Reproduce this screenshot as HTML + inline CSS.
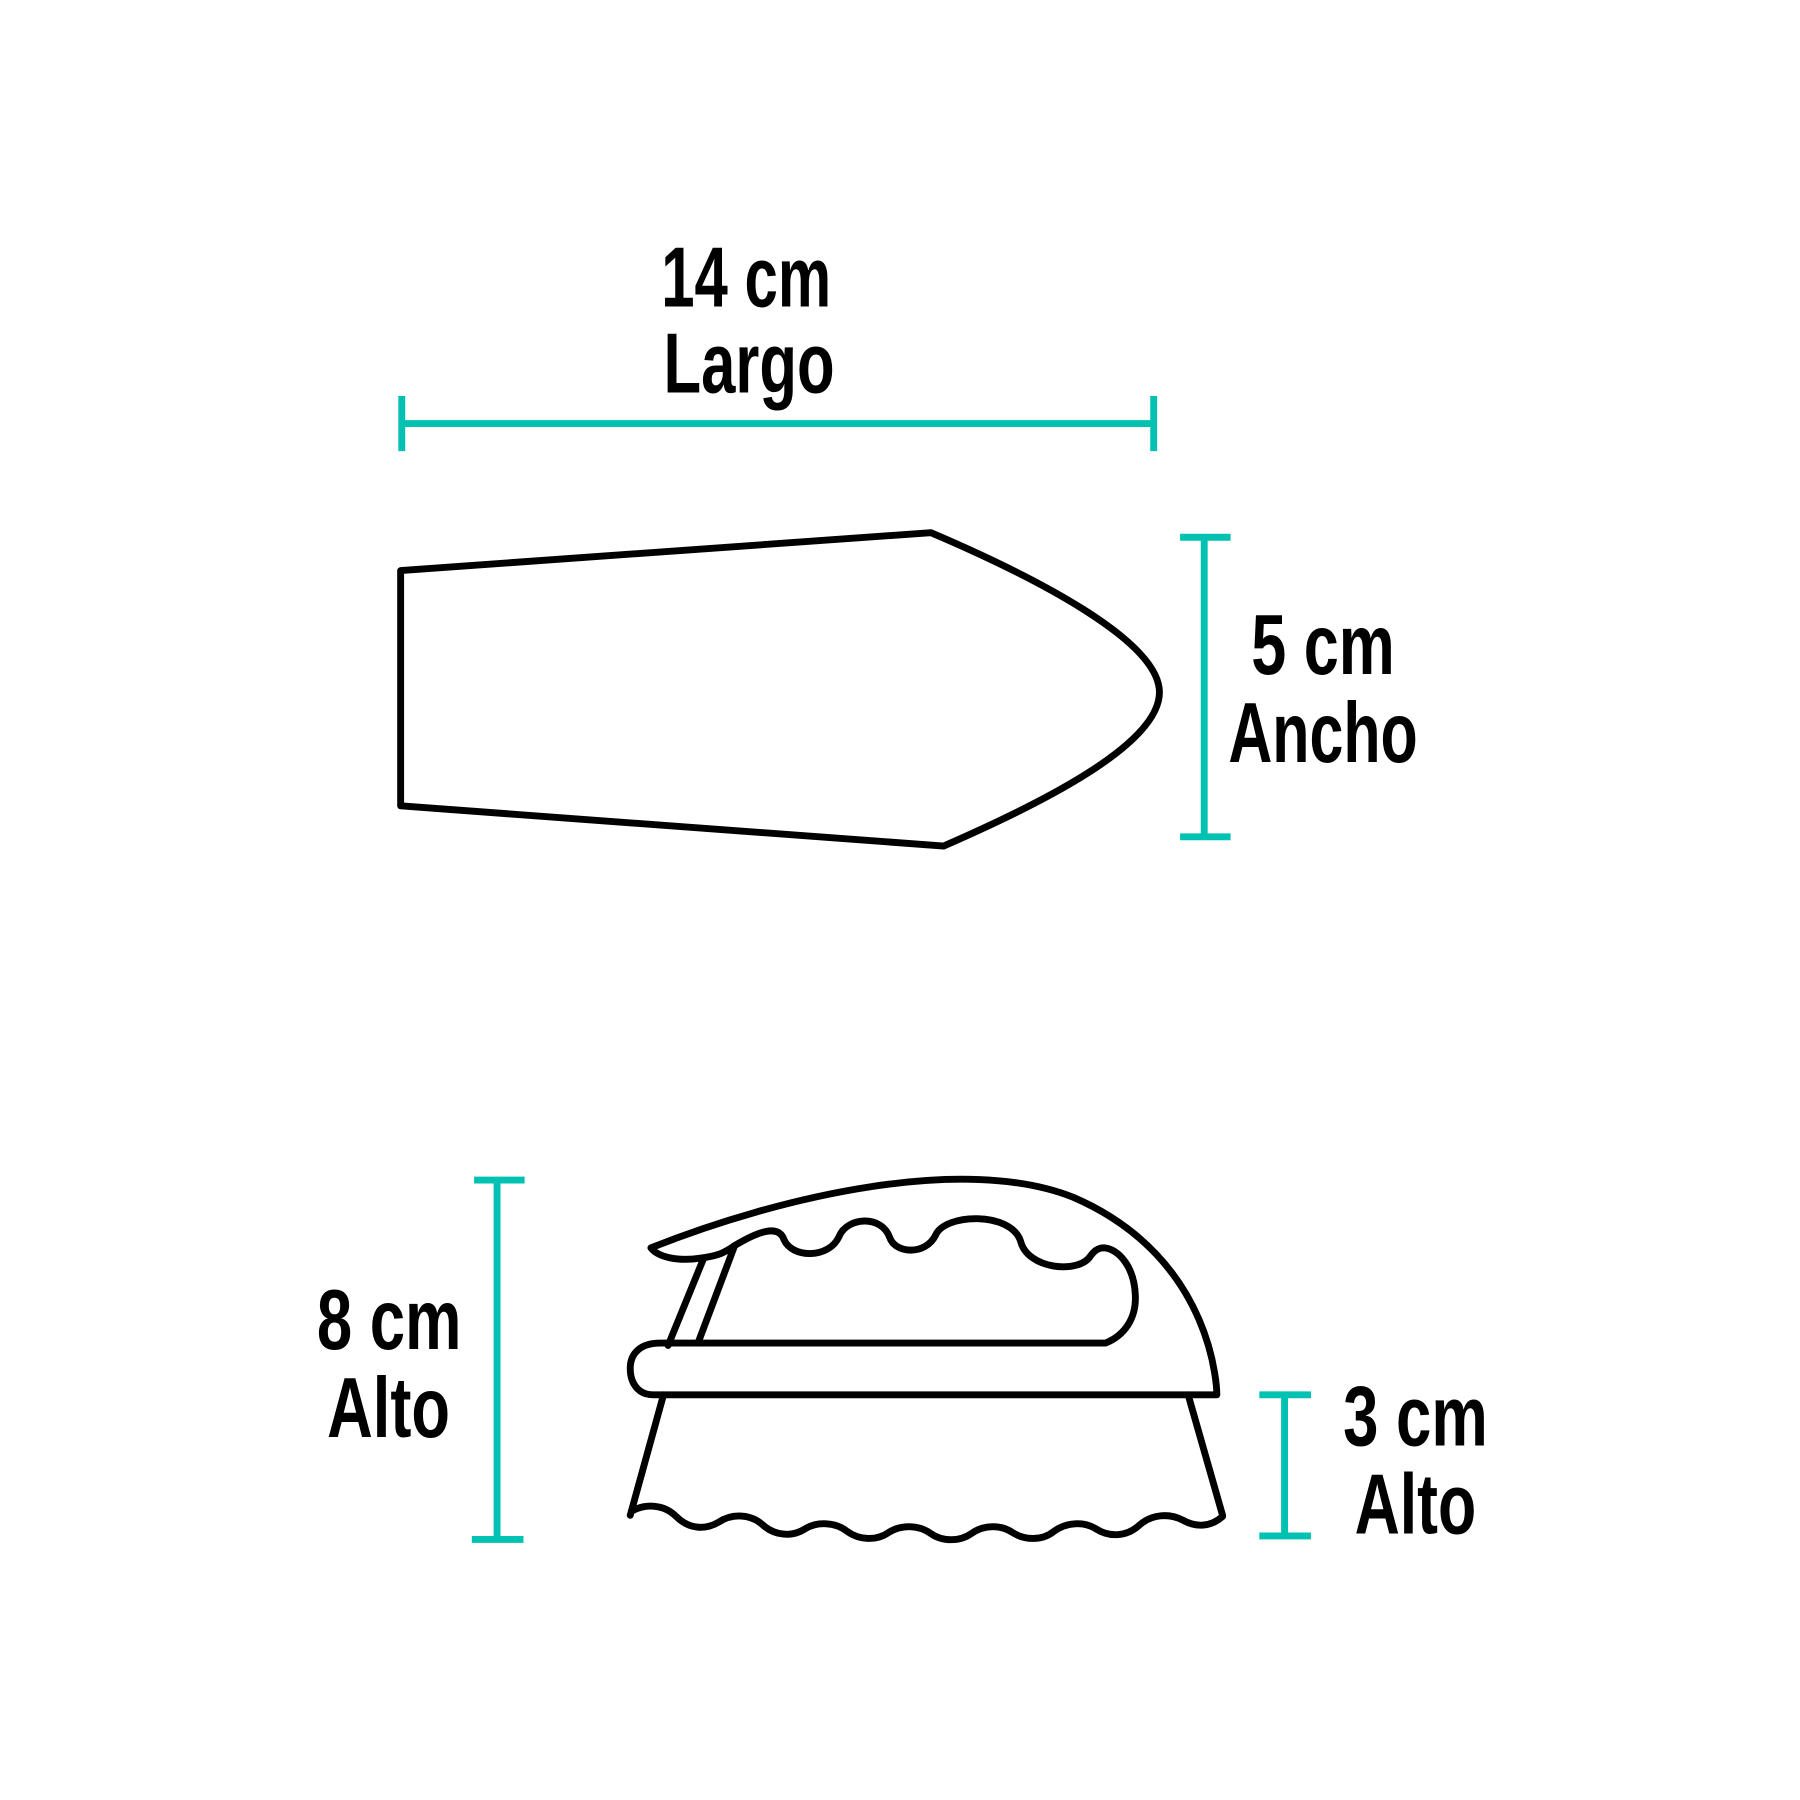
<!DOCTYPE html>
<html><head><meta charset="utf-8"><style>
html,body{margin:0;padding:0;background:#fff;}
svg{display:block}
text{font-family:"Liberation Sans Narrow","Liberation Sans",sans-serif;font-weight:bold;fill:#000;}
</style></head><body>
<svg width="1800" height="1800" viewBox="0 0 1568 1568" xmlns="http://www.w3.org/2000/svg">
<rect width="1568" height="1568" fill="#fff"/>
<g fill="none" stroke="#000" stroke-width="6" stroke-linejoin="round" stroke-linecap="round">
<path d="M349,497 L811,464 C900,502 1010,558 1010,603 C1010,650 900,703 822,737 L349,702 Z"/>
<g>
<path d="M567,1087 C680,1042 840,1005 935,1043 C1060,1097 1060,1215 1060,1215 L569,1215 C556,1215 549,1205 549,1192 C549,1178 559,1170 575,1170 L963,1170 C980,1163 990,1148 989,1128 C988,1103 974,1088 962,1087 C956,1087 953,1090 950,1094 C940,1110 895,1106 889,1081 C880,1055 823,1057 815,1076 C806,1094 780,1092 775,1078 C768,1058 738,1060 731,1077 C722,1097 690,1096 683,1080 C678,1066 660,1073 640,1085 C630,1092 625,1094 610,1096 C590,1099 573,1095 567,1087 Z"/>
<path d="M613,1096 L582,1172 M640,1085 L608,1170"/>
<path d="M578,1215 L549,1320 M1035,1215 L1065,1320"/>
<path d="M551,1316 C562,1310 578,1310 589,1321 C600,1332 614,1333 626,1326 C638,1318 654,1319 664,1328 C675,1338 690,1339 701,1332 C712,1325 728,1326 738,1334 C749,1342 764,1342 774,1335 C785,1328 800,1328 811,1336 C821,1343 836,1343 846,1336 C857,1328 872,1328 882,1335 C893,1342 908,1342 918,1334 C929,1326 944,1325 955,1332 C966,1339 981,1339 992,1329 C1003,1319 1018,1318 1030,1324 C1042,1331 1055,1330 1065,1321"/>
</g>
</g>
<g stroke="#00c1b2" stroke-width="6" fill="none">
<path d="M350,369 H1005 M350,345 V393 M1005,345 V393"/>
<path d="M1049,468 V729 M1028,468 H1072 M1028,729 H1072"/>
<path d="M433,1028 V1341 M413,1028 H457 M411,1341 H456"/>
<path d="M1119,1215 V1338 M1097,1215 H1142 M1097,1338 H1142"/>
</g>
<text x="576" y="267" font-size="74" textLength="148" lengthAdjust="spacingAndGlyphs">14 cm</text>
<text x="578" y="342" font-size="74" textLength="149" lengthAdjust="spacingAndGlyphs">Largo</text>
<text x="1090" y="587" font-size="74" textLength="125" lengthAdjust="spacingAndGlyphs">5 cm</text>
<text x="1070" y="664" font-size="74" textLength="165" lengthAdjust="spacingAndGlyphs">Ancho</text>
<text x="276" y="1175" font-size="74" textLength="126" lengthAdjust="spacingAndGlyphs">8 cm</text>
<text x="285" y="1252" font-size="74" textLength="107" lengthAdjust="spacingAndGlyphs">Alto</text>
<text x="1170" y="1259" font-size="74" textLength="126" lengthAdjust="spacingAndGlyphs">3 cm</text>
<text x="1180" y="1336" font-size="74" textLength="106" lengthAdjust="spacingAndGlyphs">Alto</text>
</svg>
</body></html>
